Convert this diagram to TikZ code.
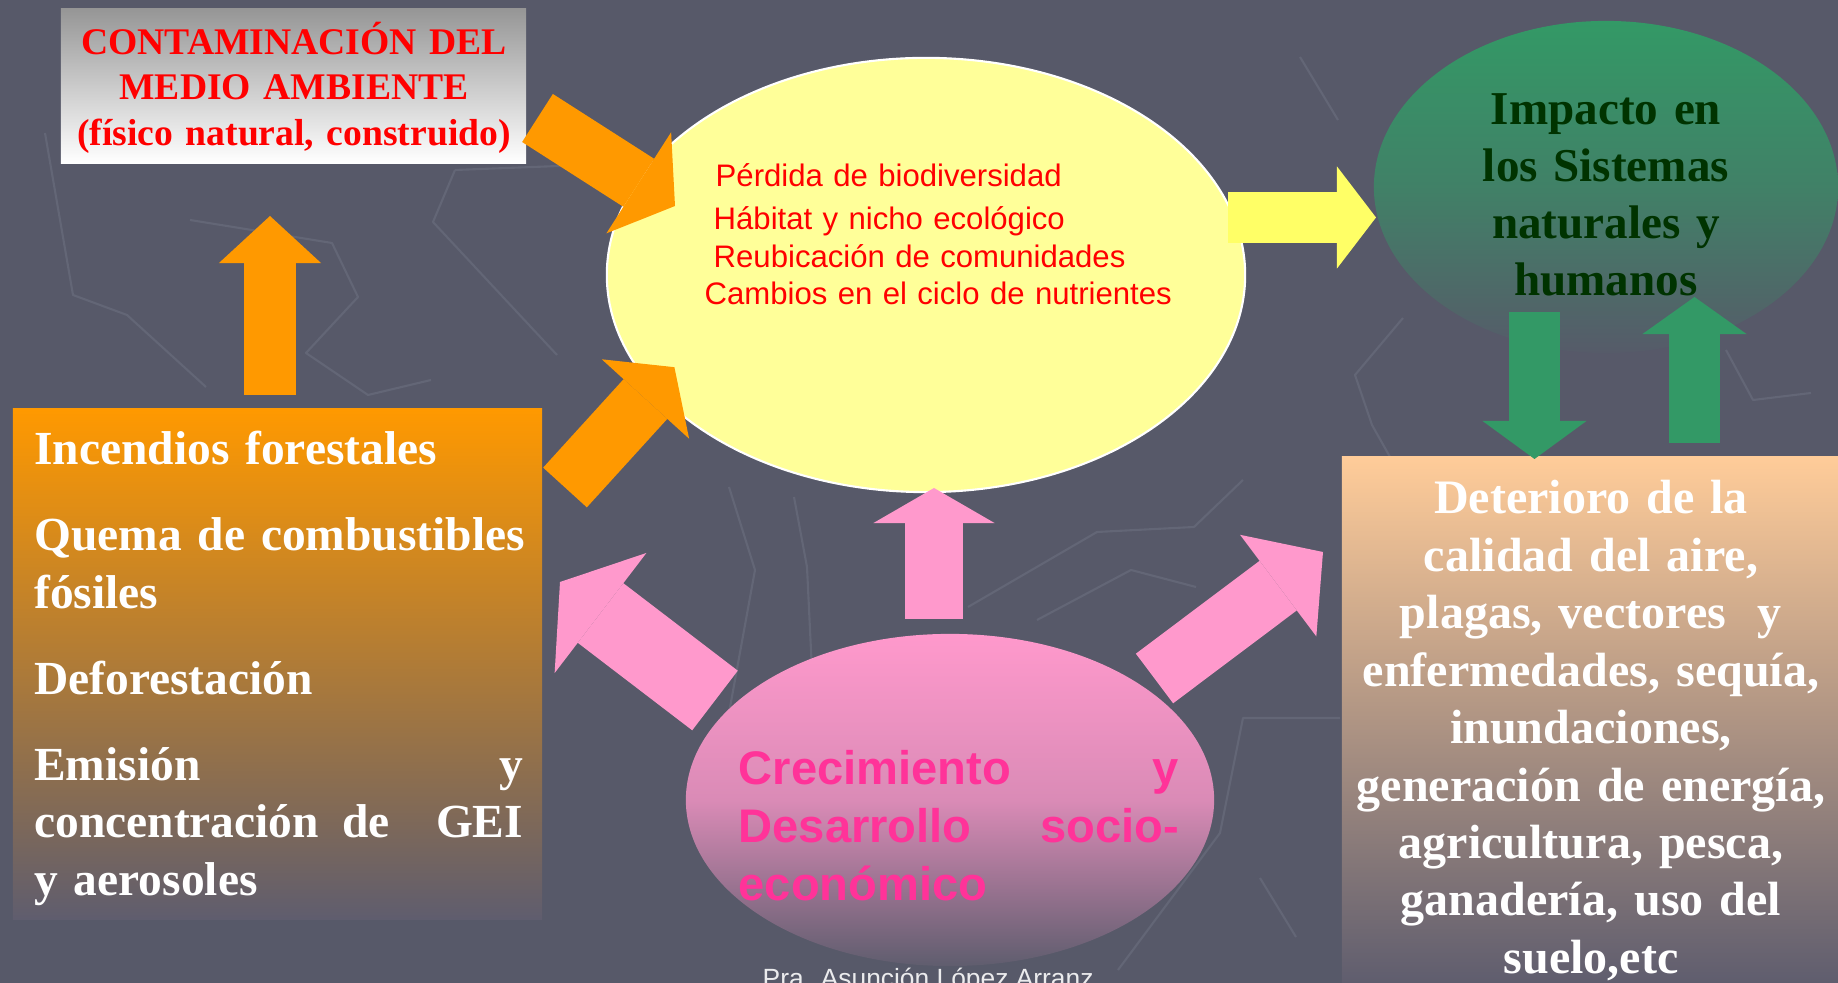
\documentclass[tikz,border=0pt]{standalone}
\usepackage{fontspec}
\setmainfont{Liberation Serif}
\newfontfamily\arialfont{Liberation Sans}
\usepackage{tikz}
\usetikzlibrary{arrows.meta, shapes.geometric}
\setlength{\parindent}{0pt}
\hyphenpenalty=10000

\definecolor{fondo}{RGB}{87,89,105}
\definecolor{traza}{RGB}{99,102,118}
\definecolor{desvanece}{RGB}{95,93,110}
\definecolor{naranja}{RGB}{255,153,0}
\definecolor{gris}{RGB}{150,150,150}
\definecolor{rojo}{RGB}{255,0,0}
\definecolor{amarillo}{RGB}{255,255,153}
\definecolor{amarilloflecha}{RGB}{255,255,102}
\definecolor{verde}{RGB}{51,153,102}
\definecolor{verdeoscuro}{RGB}{0,51,0}
\definecolor{rosa}{RGB}{255,153,204}
\definecolor{rosatexto}{RGB}{255,51,153}
\definecolor{durazno}{RGB}{255,204,153}

\begin{document}
\begin{tikzpicture}[
  x=0.01cm, y=-0.01cm,
  panel/.style={rectangle, inner sep=0pt},
  blob/.style={ellipse, inner sep=0pt},
  words/.style={inner sep=0pt, anchor=base},
  trace/.style={draw=traza, line width=0.6pt, line join=round},
  block/.style n args={3}{line width=#1, -{Triangle[length=#3, width=#2, line width=0pt]}}
]
% background
\useasboundingbox (0,0) rectangle (1838,983);
\fill[fondo] (0,0) rectangle (1838,983);
\draw[trace] (45,133) -- (73,295) -- (127,315) -- (206,387);
\draw[trace] (190,220) -- (332,243) -- (358,297) -- (306,353) -- (368,395) -- (431,380);
\draw[trace] (455,170) -- (433,222) -- (557,355);
\draw[trace] (455,170) -- (585,165);
\draw[trace] (729,487) -- (755,570) -- (729,713);
\draw[trace] (794,497) -- (807,567) -- (814,713);
\draw[trace] (968,607) -- (1097,532) -- (1194,527) -- (1243,480);
\draw[trace] (1037,620) -- (1131,570) -- (1196,587);
\draw[trace] (1340,718) -- (1243,718) -- (1220,833) -- (1118,970);
\draw[trace] (1260,878) -- (1296,937);
\draw[trace] (1300,57) -- (1338,120);
\draw[trace] (1403,318) -- (1355,375) -- (1372,425) -- (1403,480);
\draw[trace] (1726,350) -- (1753,400) -- (1811,393);

% boxes and ellipses
\node[panel, top color=gris, bottom color=white, minimum width=4.65cm, minimum height=1.54cm] (contam) at (293.5,86) {};
\node[panel, top color=naranja, bottom color=desvanece, minimum width=5.29cm, minimum height=5.10cm] (causas) at (277.5,664) {};
\node[blob, fill=amarillo, draw=white, line width=0.6pt, minimum width=6.38cm, minimum height=4.34cm] (perdida) at (926,275) {};
\node[blob, top color=verde, bottom color=fondo!97!verde, middle color=verde!62!fondo, minimum width=4.64cm, minimum height=3.32cm] (impacto) at (1606,187) {};
\node[panel, top color=durazno, bottom color=desvanece, minimum width=4.96cm, minimum height=5.26cm] (deterioro) at (1590,720) {};
\node[blob, top color=rosa, bottom color=desvanece, middle color=rosa!78!fondo, minimum width=5.28cm, minimum height=3.32cm] (crecimiento) at (950,800) {};

% texts
\node[words, text width=4.6cm, align=center, text=rojo, font=\bfseries\fontsize{10.7pt}{12.8pt}\selectfont] (contamTxt) at (294,55)
  {CONTAMINACIÓN DEL\\ MEDIO AMBIENTE\\ (físico natural, construido)};
\node[words, anchor=base west, text width=4.885cm, align=left, text=white, font=\bfseries\fontsize{13.5pt}{16.4pt}\selectfont] (causasTxt) at (33.6,465)
  {Incendios forestales\\[8pt] \mbox{Quema de combustibles}\\ fósiles\\[8pt] Deforestación\\[8pt] Emisión\hfill y\\ concentración\hfill de\hfill\hfill GEI\\ y aerosoles};
\node[words, anchor=base west, text width=5cm, align=left, text=rojo, font=\arialfont\fontsize{8.85pt}{10.67pt}\selectfont] (perdidaTxt) at (704,187)
  {\hspace*{0.11cm}Pérdida de biodiversidad\\[1.5pt] \hspace*{0.09cm}Hábitat y nicho ecológico\\ \hspace*{0.09cm}Reubicación de comunidades\\ Cambios en el ciclo de nutrientes};
\node[words, text width=4cm, align=center, text=verdeoscuro, font=\bfseries\fontsize{13.4pt}{16.2pt}\selectfont] (impactoTxt) at (1606,125)
  {Impacto en\\ los Sistemas\\ naturales y\\ humanos};
\node[words, text width=4.9cm, align=center, text=white, font=\bfseries\fontsize{13.66pt}{16.33pt}\selectfont] (deterioroTxt) at (1591,514)
  {Deterioro de la\\ calidad del aire,\\ plagas, vectores\ \ y\\ enfermedades, sequía,\\ inundaciones,\\ generación de energía,\\ agricultura, pesca,\\ ganadería, uso del\\ suelo,etc};
\node[words, anchor=base west, text width=4.40cm, align=left, text=rosatexto, font=\arialfont\bfseries\fontsize{13.4pt}{16.4pt}\selectfont] (crecimientoTxt) at (738,785)
  {Crecimiento\hfill y\\ Desarrollo\hfill socio-\\ económico};

% block arrows
\coordinate (humoCola) at (270,395);      \coordinate (humoPunta) at (270,216);
\coordinate (causaCola1) at (537.5,118);  \coordinate (causaPunta1) at (675,206);
\coordinate (causaCola2) at (565,487.5);  \coordinate (causaPunta2) at (674.4,367.2);
\coordinate (efectoCola) at (1228,217.5); \coordinate (efectoPunta) at (1376,217.5);
\coordinate (bajaCola) at (1534.5,312);   \coordinate (bajaPunta) at (1534.5,459);
\coordinate (subeCola) at (1694.5,443);   \coordinate (subePunta) at (1694.5,297);
\coordinate (rosaCola1) at (934,619);     \coordinate (rosaPunta1) at (934,488);
\coordinate (rosaCola2) at (715,700.5);   \coordinate (rosaPunta2) at (560,582);
\coordinate (rosaCola3) at (1154.5,678.5); \coordinate (rosaPunta3) at (1323,552);

\draw[naranja, block={0.52cm}{1.02cm}{0.47cm}] (humoCola) -- (humoPunta);
\draw[naranja, block={0.57cm}{1.20cm}{0.43cm}] (causaCola1) -- (causaPunta1);
\draw[naranja, block={0.59cm}{1.18cm}{0.43cm}] (causaCola2) -- (causaPunta2);
\draw[amarilloflecha, block={0.50cm}{1.02cm}{0.39cm}] (efectoCola) -- (efectoPunta);
\draw[verde, block={0.51cm}{1.04cm}{0.38cm}] (bajaCola) -- (bajaPunta);
\draw[verde, block={0.51cm}{1.04cm}{0.37cm}] (subeCola) -- (subePunta);
\draw[rosa, block={0.58cm}{1.21cm}{0.35cm}] (rosaCola1) -- (rosaPunta1);
\draw[rosa, block={0.75cm}{1.51cm}{0.51cm}] (rosaCola2) -- (rosaPunta2);
\draw[rosa, block={0.62cm}{1.27cm}{0.56cm}] (rosaCola3) -- (rosaPunta3);

% footer
\node[words, anchor=base west, text=white!88!fondo, font=\arialfont\fontsize{7.5pt}{9pt}\selectfont] (autora) at (762,988)
  {Pra. Asunción López Arranz};
\end{tikzpicture}
\end{document}
